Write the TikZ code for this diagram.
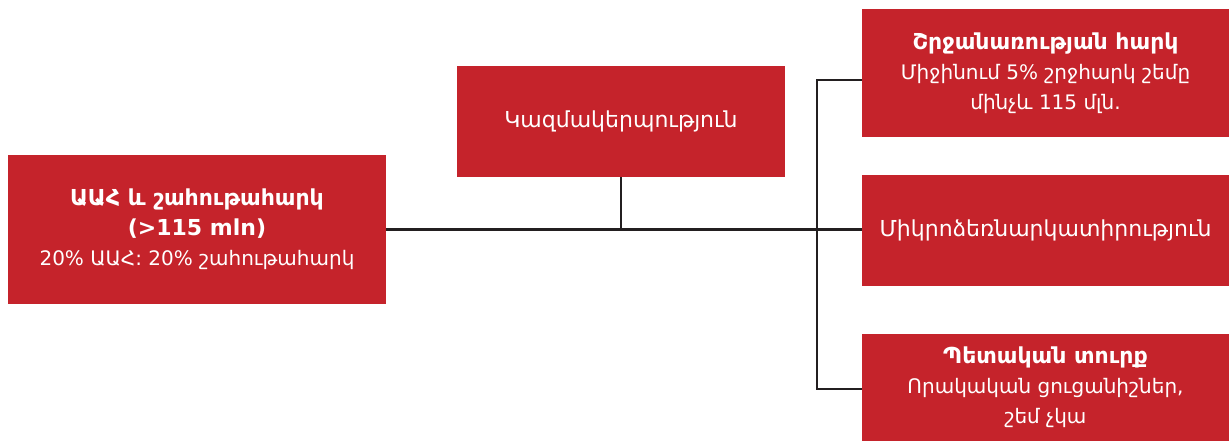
\documentclass[tikz,border=0pt]{standalone}
\usepackage{fontspec}
\setmainfont{DejaVu Sans}
\definecolor{boxred}{HTML}{C5232B}
\definecolor{linkgray}{HTML}{231F20}
\newcommand{\boxtitle}[1]{{\fontsize{22}{30}\selectfont\bfseries #1}}
\tikzset{
  redbox/.style={
    shape = rectangle,
    fill = boxred,
    text = white,
    align = center,
    inner sep = 0pt,
    font = \fontsize{20}{30}\selectfont
  },
  bigbox/.style={
    redbox,
    font = \fontsize{22}{30}\selectfont
  },
  link/.style={
    draw = linkgray,
    line width = 2.8pt
  }
}

\begin{document}
\begin{tikzpicture}[x=1pt,y=-1pt]
            \useasboundingbox (0,0) rectangle (1229,441);
            \node[redbox,minimum width=378pt,minimum height=149pt] (vat) at (197,229.5)
              {\boxtitle{ԱԱՀ և շահութահարկ}\\\boxtitle{(>115 mln)}\\20\% ԱԱՀ: 20\% շահութահարկ};
            \node[bigbox,minimum width=328pt,minimum height=111pt] (org) at (621,121.5)
              {Կազմակերպություն};
            \node[redbox,minimum width=367pt,minimum height=128pt] (turn) at (1045.5,73)
              {\boxtitle{Շրջանառության հարկ}\\Միջինում 5\% շրջհարկ շեմը\\մինչև 115 մլն.};
            \node[bigbox,minimum width=367pt,minimum height=111pt] (micro) at (1045.5,230.5)
              {Միկրոձեռնարկատիրություն};
            \node[redbox,minimum width=367pt,minimum height=107pt] (duty) at (1045.5,387.5)
              {\boxtitle{Պետական տուրք}\\Որակական ցուցանիշներ,\\շեմ չկա};
            % connectors
            \coordinate (bustop) at (817,80);
            \coordinate (busbot) at (817,389);
            \draw[link] (vat.east) -- (vat.east -| micro.west);
            \draw[link] (org.south) -- (org.south |- vat.east);
            \draw[link] (turn.west |- bustop) -- (bustop) -- (busbot) -- (duty.west |- busbot);
\end{tikzpicture}
\end{document}
